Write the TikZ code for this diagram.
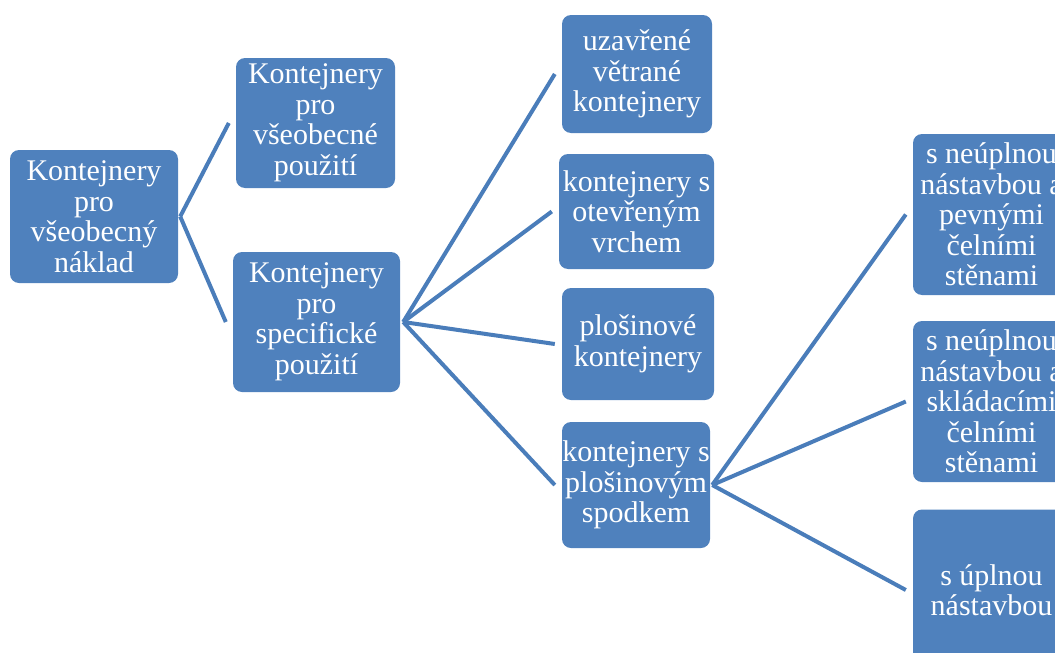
\documentclass[tikz,border=0pt]{standalone}
\usepackage{fontspec}
\setmainfont{Liberation Serif}
\usepackage{tikz}
\usetikzlibrary{calc}
\definecolor{boxblue}{HTML}{4F81BD}
\definecolor{linkblue}{HTML}{4A7DBA}
\tikzset{
  box/.style={fill=boxblue, text=white, rounded corners=9pt, align=center,
    inner sep=0pt, font=\fontsize{30}{30.5}\selectfont},
  link/.style={draw=linkblue, line width=4pt}
}

\begin{document}
\begin{tikzpicture}[x=1pt,y=-1pt]
\useasboundingbox (0,0) rectangle (1055,653);
\clip (0,0) rectangle (1055,653);
\node[box, minimum width=168, minimum height=133] (root) at (94,216.5) {Kontejnery\\pro\\všeobecný\\náklad};
\node[box, minimum width=159, minimum height=130] (general) at (315.5,123) {Kontejnery\\pro\\všeobecné\\použití};
\node[box, minimum width=167, minimum height=140] (specific) at (316.5,322) {Kontejnery\\pro\\specifické\\použití};
\node[box, minimum width=150, minimum height=118] (vented) at (637,74) {uzavřené\\větrané\\kontejnery};
\node[box, minimum width=155, minimum height=115] (opentop) at (636.5,211.5) {kontejnery s\\otevřeným\\vrchem};
\node[box, minimum width=152, minimum height=112] (platform) at (638,344) {plošinové\\kontejnery};
\node[box, minimum width=148, minimum height=126] (platbase) at (636,485) {kontejnery s\\plošinovým\\spodkem};
\node[box, minimum width=157, minimum height=161] (partfixed) at (991.5,214.5) {s neúplnou\\nástavbou a\\pevnými\\čelními\\stěnami};
\node[box, minimum width=157, minimum height=161] (partfold) at (991.5,401.5) {s neúplnou\\nástavbou a\\skládacími\\čelními\\stěnami};
\node[box, minimum width=157, minimum height=161] (full) at (991.5,590) {s úplnou\\nástavbou};
\foreach \child in {general,specific}
 \draw[link] ([xshift=2]root.east) -- ([xshift=-7]\child.west);
\foreach \child in {vented,opentop,platform,platbase}
 \draw[link] ([xshift=3]specific.east) -- ([xshift=-7]\child.west);
\foreach \child in {partfixed,partfold,full}
 \draw[link] ([xshift=2]platbase.east) -- ([xshift=-7]\child.west);
\end{tikzpicture}
\end{document}
